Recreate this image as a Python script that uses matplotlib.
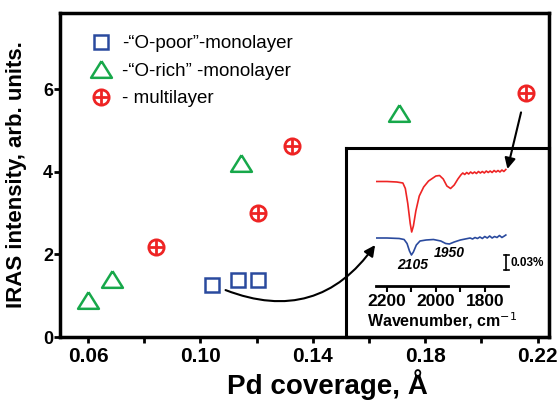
import matplotlib
matplotlib.use('Agg')
import matplotlib.pyplot as plt

plt.rcParams['font.family'] = ['Liberation Sans', 'DejaVu Sans']

# main data: Pd coverage (A) vs IRAS intensity
poor_x = [0.104, 0.1134, 0.1205]
poor_y = [1.26, 1.38, 1.38]
rich_x = [0.060, 0.0686, 0.1145, 0.1706]
rich_y = [0.90, 1.40, 4.20, 5.42]
multi_x = [0.0842, 0.1205, 0.1326, 0.2160]
multi_y = [2.18, 3.00, 4.63, 5.90]

# inset spectra (wavenumber, signal in %)
red_wn = [2243, 2200, 2160, 2135, 2125, 2115, 2105, 2099, 2092, 2082, 2068, 2050, 2030,
          2000, 1985, 1970, 1955, 1940, 1925, 1910, 1898, 1890, 1882, 1874, 1866, 1858,
          1850, 1842, 1834, 1826, 1818, 1810, 1802, 1794, 1786, 1778, 1770, 1762, 1754,
          1746, 1738, 1730, 1722, 1714]
red_sig = [0.209, 0.209, 0.208, 0.206, 0.195, 0.165, 0.125, 0.108, 0.120, 0.150, 0.180,
           0.198, 0.210, 0.220, 0.221, 0.214, 0.200, 0.195, 0.202, 0.214, 0.222, 0.226,
           0.223, 0.227, 0.224, 0.228, 0.225, 0.228, 0.225, 0.229, 0.226, 0.229, 0.226,
           0.230, 0.227, 0.230, 0.227, 0.231, 0.228, 0.231, 0.228, 0.232, 0.229, 0.233]
blue_wn = [2243, 2200, 2150, 2130, 2118, 2108, 2100, 2092, 2080, 2065, 2040, 2010, 1980,
           1960, 1945, 1925, 1900, 1880, 1860, 1850, 1840, 1830, 1820, 1810, 1800, 1790,
           1780, 1770, 1760, 1750, 1740, 1730, 1720, 1714]
blue_sig = [0.096, 0.096, 0.095, 0.093, 0.085, 0.070, 0.062, 0.068, 0.082, 0.090, 0.092,
            0.093, 0.090, 0.085, 0.084, 0.088, 0.092, 0.094, 0.096, 0.094, 0.097, 0.095,
            0.098, 0.095, 0.099, 0.096, 0.100, 0.096, 0.099, 0.097, 0.101, 0.097, 0.100, 0.102]

blue = '#2a4a9e'
green = '#17a84a'
red = '#ee2424'

fig = plt.figure(figsize=(5.59, 4.0), dpi=100)
ax = fig.add_axes([0.1073, 0.1575, 0.8747, 0.81])

h1, = ax.plot(poor_x, poor_y, 's', ms=9.5, mfc='none', mec=blue, mew=1.8, ls='none')
tri = [(0, 0.8), (-1, -0.8), (1, -0.8), (0, 0.8)]
h2, = ax.plot(rich_x, rich_y, marker=tri, ms=15, mfc='none', mec=green, mew=1.8, ls='none')
h3a, = ax.plot(multi_x, multi_y, 'o', ms=11, mfc='none', mec=red, mew=2, ls='none')
h3b, = ax.plot(multi_x, multi_y, '+', ms=11, mec=red, mew=2, ls='none')

ax.set_xlim(0.05, 0.224)
ax.set_ylim(0, 7.84)
ax.set_xticks([0.06, 0.10, 0.14, 0.18, 0.22])
ax.set_xticklabels(['0.06', '0.10', '0.14', '0.18', '0.22'])
ax.set_xticks([0.08, 0.12, 0.16, 0.20], minor=True)
ax.set_yticks([0, 2, 4, 6])
ax.tick_params(axis='both', which='both', direction='out', length=4, width=2)
ax.tick_params(axis='x', labelsize=15, pad=3)
ax.tick_params(axis='y', labelsize=13, pad=1)
for lab in ax.get_xticklabels() + ax.get_yticklabels():
    lab.set_fontweight('bold')
for s in ax.spines.values():
    s.set_linewidth(2.5)

ax.set_xlabel('Pd coverage, Å', fontsize=20, fontweight='bold')
ax.xaxis.set_label_coords(0.548, -0.10)
ax.set_ylabel('IRAS intensity, arb. units.', fontsize=16, fontweight='bold')
ax.yaxis.set_label_coords(-0.068, 0.5)

ax.legend([h1, h2, (h3a, h3b)],
          ['-“O-poor”-monolayer', '-“O-rich” -monolayer', '- multilayer'],
          loc='upper left', bbox_to_anchor=(0.05, 0.955), frameon=False, fontsize=13.5,
          handlelength=1.0, handletextpad=0.6, labelspacing=0.55, borderaxespad=0)

# inset frame
box = fig.add_axes([0.619, 0.1575, 0.3632, 0.4725])
box.patch.set_alpha(0)
box.set_xticks([])
box.set_yticks([])
for s in box.spines.values():
    s.set_linewidth(2.2)

# inset spectra
sp = fig.add_axes([0.6726, 0.285, 0.2362, 0.315])
sp.patch.set_alpha(0)
sp.plot(red_wn, red_sig, color=red, lw=1.2)
sp.plot(blue_wn, blue_sig, color=blue, lw=1.2)
sp.set_xlim(2245, 1705)
sp.set_ylim(0, 0.252)
for k in ['left', 'right', 'top']:
    sp.spines[k].set_visible(False)
sp.spines['bottom'].set_linewidth(2)
sp.set_yticks([])
sp.set_xticks([2200, 2000, 1800])
sp.set_xticks([2100, 1900], minor=True)
sp.tick_params(axis='x', which='both', direction='out', length=4, width=1.5, labelsize=12.5, pad=2)
for lab in sp.get_xticklabels():
    lab.set_fontweight('bold')
sp.set_xlabel('Wavenumber, cm$^{-1}$', fontsize=11.5, fontweight='bold', labelpad=1)
sp.text(2095, 0.042, '2105', fontsize=10, fontstyle='italic', fontweight='bold', ha='center', va='center')
sp.text(1945, 0.066, '1950', fontsize=10, fontstyle='italic', fontweight='bold', ha='center', va='center')
sp.plot([1712, 1712], [0.032, 0.062], color='k', lw=1.2, clip_on=False)
sp.plot([1722, 1702], [0.062, 0.062], color='k', lw=1.2, clip_on=False)
sp.plot([1722, 1702], [0.032, 0.032], color='k', lw=1.2, clip_on=False)
sp.text(1695, 0.047, '0.03%', fontsize=8.5, fontweight='bold', ha='left', va='center', clip_on=False)

# arrows
ax.annotate('', xy=(0.2090, 4.00), xytext=(0.2143, 5.50),
            arrowprops=dict(arrowstyle='-|>', color='k', lw=1.5, mutation_scale=16))
ax.annotate('', xy=(0.1627, 2.28), xytext=(0.1080, 1.16),
            arrowprops=dict(arrowstyle='-|>', color='k', lw=1.5, mutation_scale=16,
                            connectionstyle='arc3,rad=0.4'))

fig.savefig('out.png', dpi=100)
